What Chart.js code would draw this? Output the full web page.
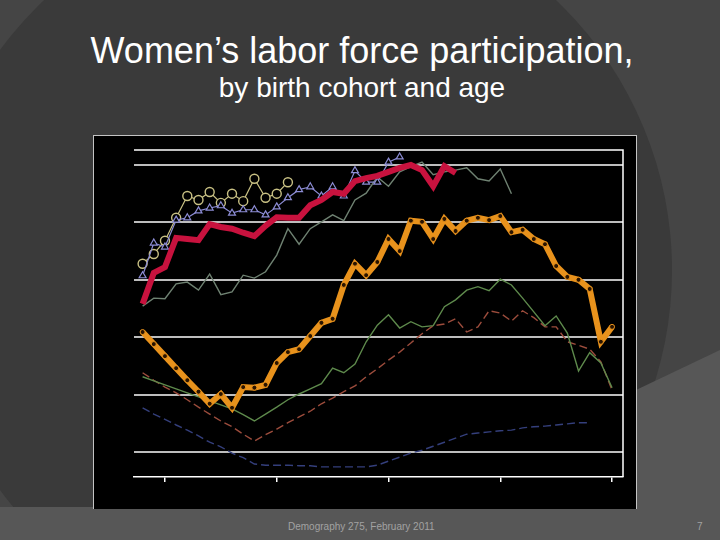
<!DOCTYPE html>
<html>
<head>
<meta charset="utf-8">
<script src="https://cdn.jsdelivr.net/npm/chart.js@4.4.1/dist/chart.umd.min.js"></script>
<style>
  html, body { margin:0; padding:0; }
  body { width:720px; height:540px; position:relative; overflow:hidden; background:#454545; font-family:"Liberation Sans", Arial, sans-serif; }
  .arc  { position:absolute; left:-72px; top:-102px; width:744px; height:744px; border-radius:50%; background:#3a3a3a; }
  .band { position:absolute; left:0; top:0; width:720px; height:540px; background:#575757;
          clip-path:polygon(0 507px, 636px 507px, 636px 390px, 720px 350px, 720px 540px, 0 540px); }
  .box  { position:absolute; left:93px; top:135px; width:542px; height:373px; background:#000; border:1px solid #c4c4c4; border-bottom:none; }
  .t1   { position:absolute; left:2px; width:720px; top:33px; text-align:center; color:#fff; font-size:36px; line-height:1; }
  .t2   { position:absolute; left:2px; width:720px; top:74px; text-align:center; color:#fff; font-size:28px; line-height:1; }
  .foot { position:absolute; top:522px; color:#a2a2a2; font-size:10px; line-height:1; }
  canvas { position:absolute; left:0; top:0; }
</style>
</head>
<body>
<div class="arc"></div>
<div class="band"></div>
<div class="t1">Women’s labor force participation,</div>
<div class="t2">by birth cohort and age</div>
<div class="box"></div>
<div class="foot" style="left:288px">Demography 275, February 2011</div>
<div class="foot" style="left:697px">7</div>
<canvas id="cv" width="720" height="540"></canvas>

<script>
// x positions (one per cohort step), tick marks every 10 steps
const xPos = [0,1,2,3,4,5,6,7,8,9,10,11,12,13,14,15,16,17,18,19,20,21,22,23,24,25,26,27,28,29,30,31,32,33,34,35,36,37,38,39,40,41,42];
const xTicks = [2, 12, 22, 32, 42];
const yTicks = [10, 20, 30, 40, 50, 60];

// participation rates (%)
const khaki    = [42.8,44.5,46.8,50.8,54.6,53.9,55.3,53.4,55.0,53.7,57.6,54.3,55.0,57.0];
const lavender = [40.7,46.4,45.7,50.4,50.8,52.0,52.5,52.9,51.6,52.2,52.2,51.3,52.7,54.3,55.7,56.2,54.6,56.2,54.6,59.0,57.0,57.0,60.5,61.4];
const crimson  = [35.8,41.2,42.2,47.3,47.1,46.9,49.7,49.2,48.9,48.2,47.6,49.4,50.9,50.8,50.8,53.0,53.9,55.3,55.0,57.2,57.7,58.1,58.8,59.5,60.0,59.1,56.3,59.8,58.6];
const grayLine = [35.4,36.8,36.7,39.3,39.6,38.2,41.0,37.4,37.9,40.8,40.3,41.4,44.3,48.9,46.2,48.9,50.1,51.3,50.3,53.9,55.1,57.9,56.3,58.8,59.7,60.5,58.3,58.8,59.1,59.5,57.6,57.2,59.3,55.0];
const orange   = [30.9,28.8,26.7,24.6,22.5,20.5,18.4,20.1,17.7,21.3,21.2,21.7,25.5,27.4,27.9,30.2,32.5,33.2,39.1,42.8,40.8,43.1,47.1,45.0,50.3,50.1,47.1,50.6,48.5,50.3,50.8,50.4,51.1,48.3,48.7,47.1,46.2,42.4,40.5,40.0,38.4,29.2,31.8];
const green    = [23.1,22.4,21.7,21.0,20.3,19.6,18.9,18.2,17.5,16.5,15.4,16.6,17.8,19.1,20.1,21.0,21.9,24.6,23.8,25.3,29.2,32.1,33.9,31.6,32.7,31.8,32.0,35.3,36.5,38.2,38.8,38.1,40.1,39.1,36.8,34.4,32.0,33.7,30.7,24.1,27.3,25.5,21.2];
const brown    = [23.8,22.5,21.3,20.3,19.1,17.8,16.6,15.4,14.4,13.1,11.9,13.0,14.0,15.1,16.1,17.1,18.4,19.4,20.5,21.5,23.1,24.5,26.0,27.4,29.0,30.6,32.0,32.3,33.2,30.9,31.8,34.6,34.2,32.8,34.6,33.4,31.8,31.8,29.2,28.6,27.9,25.7,20.8];
const navy     = [17.7,16.6,15.7,14.7,13.8,12.8,11.7,10.9,9.8,9.0,7.9,7.7,7.7,7.7,7.6,7.6,7.4,7.4,7.4,7.4,7.4,7.7,8.4,9.1,9.8,10.3,11.0,11.7,12.4,13.1,13.3,13.5,13.7,13.8,14.2,14.4,14.5,14.7,14.9,15.1,15.1];

const pts = arr => arr.map((v, i) => ({ x: xPos[i], y: v }));

function line(data, color, width, extra) {
  return Object.assign({ data: pts(data), borderColor: color, borderWidth: width, pointRadius: 0, tension: 0, fill: false }, extra || {});
}

// top + right frame of the plot
const framePlugin = {
  id: 'frame',
  beforeDatasetsDraw(chart) {
    const a = chart.chartArea, c = chart.ctx;
    c.save();
    c.strokeStyle = '#fff'; c.lineWidth = 1.5;
    c.beginPath();
    c.moveTo(a.left, a.top); c.lineTo(a.right, a.top); c.lineTo(a.right, a.bottom);
    c.stroke();
    c.restore();
  }
};

new Chart(document.getElementById('cv'), {
  type: 'line',
  data: {
    datasets: [
      line(orange, '#e8921c', 6, { order: 1, pointRadius: 2.5, pointBackgroundColor: '#2a1400', pointBorderColor: '#e8921c', pointBorderWidth: 1 }),
      line(crimson, '#c8123e', 6, { order: 2 }),
      line(lavender, '#8c8cd4', 1.2, { order: 3, pointStyle: 'triangle', pointRadius: 4, pointBackgroundColor: '#000', pointBorderColor: '#8c8cd4', pointBorderWidth: 1.2 }),
      line(khaki, '#c9c184', 1.2, { order: 4, pointRadius: 4.5, pointBackgroundColor: '#000', pointBorderColor: '#c9c184', pointBorderWidth: 1.4 }),
      line(grayLine, '#6f8272', 1.4, { order: 5 }),
      line(green, '#5e8a4c', 1.4, { order: 6 }),
      line(brown, '#9c4c3c', 1.4, { order: 7, borderDash: [8, 4] }),
      line(navy, '#343f7c', 1.4, { order: 8, borderDash: [8, 4] }),
    ]
  },
  options: {
    responsive: false, animation: false,
    layout: { padding: { left: 134, right: 97, top: 150, bottom: 58 } },
    plugins: { legend: { display: false }, tooltip: { enabled: false } },
    scales: {
      x: {
        type: 'linear', min: -0.77, max: 42.98,
        afterBuildTicks: s => { s.ticks = xTicks.map(v => ({ value: v })); },
        afterFit: s => { s.height = 5; },
        ticks: { display: false },
        grid: { drawOnChartArea: false, drawTicks: true, tickLength: 5, color: '#fff', lineWidth: 1.5 },
        border: { display: true, color: '#fff', width: 1.5 },
      },
      y: {
        min: 5.64, max: 62.61,
        afterBuildTicks: s => { s.ticks = yTicks.map(v => ({ value: v })); },
        afterFit: s => { s.width = 0; },
        ticks: { display: false },
        grid: { color: '#bdbdbd', lineWidth: 2, drawTicks: false },
        border: { display: false },
      }
    }
  },
  plugins: [framePlugin]
});
</script>
</body>
</html>
